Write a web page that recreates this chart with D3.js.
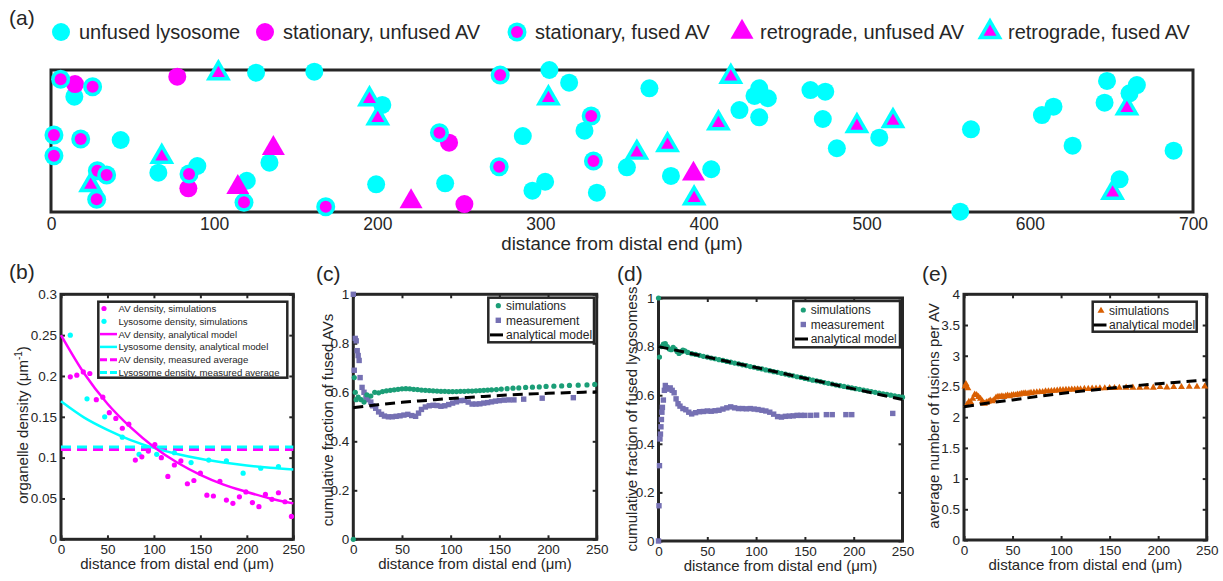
<!DOCTYPE html>
<html><head><meta charset="utf-8">
<script src="https://cdn.jsdelivr.net/npm/d3@7"></script>
<style>
body{margin:0;background:#fff;}
svg{display:block;}
</style></head><body>
<svg id="fig" width="1223" height="581"></svg>
<script>
// ---------------- DATA ----------------
// Panel (a): kymograph-like positions (x in µm, y as fraction of box height)
const aTicks = [0,100,200,300,400,500,600,700];
const lysoX = [14.3,125.7,161.4,203.1,42.7,133.9,65.8,89.7,120.0,199.3,241.6,305.5,317.6,327.0,289.2,302.9,295.1,334.6,353.0,380.0,404.7,366.8,422.0,431.2,434.1,439.4,434.1,465.5,474.6,473.1,481.7,507.7,563.9,557.3,607.4,614.5,626.2,647.3,645.8,665.6,661.1,655.0,688.1];
const lysoY = [0.812,0.981,0.988,0.754,0.507,0.347,0.277,0.324,0.220,0.195,0.202,1.0,0.911,0.573,0.535,0.213,0.150,0.136,0.315,0.254,0.301,0.871,0.718,0.817,0.871,0.801,0.667,0.859,0.847,0.655,0.449,0.523,0.582,0.002,0.683,0.742,0.467,0.923,0.770,0.894,0.836,0.230,0.432];
const statUnfX = [14.7,77.4,84.2,244.0,253.4];
const statUnfY = [0.901,0.953,0.167,0.488,0.056];
const statFusX = [5.9,25.5,1.8,18.2,1.8,84.6,28.4,34.1,28.0,118.3,168.4,238.1,275.3,331.1,274.7,332.5];
const statFusY = [0.935,0.882,0.542,0.514,0.396,0.268,0.291,0.261,0.089,0.068,0.037,0.558,0.965,0.676,0.319,0.359];
const retUnfX = [136.3,114.5,220.7,393.8];
const retUnfY = [0.449,0.174,0.073,0.268];
const retFusX = [102.6,195.2,200.3,67.9,24.3,304.9,359.1,377.9,394.2,416.7,409.1,494.0,516.1,659.5,650.7];
const retFusY = [0.977,0.794,0.660,0.389,0.190,0.801,0.418,0.472,0.096,0.953,0.625,0.606,0.641,0.730,0.136];
const aLegendLabels = ["unfused lysosome","stationary, unfused AV","stationary, fused AV","retrograde, unfused AV","retrograde, fused AV"];

// Panel (b)
const bXTicks = [0,50,100,150,200,250];
const bYTicks = [0,0.05,0.1,0.15,0.2,0.25,0.3];
const bAvSimX = [10,17,24,31,38,45,52,59,66,73,80,87,94,101,108,115,122,129,136,143,150,157,164,171,178,185,192,199,206,213,220,227,234,241,248];
const bAvSimY = [0.199,0.201,0.205,0.203,0.171,0.174,0.155,0.148,0.136,0.141,0.097,0.101,0.108,0.116,0.100,0.077,0.091,0.096,0.068,0.072,0.081,0.054,0.053,0.071,0.048,0.044,0.052,0.058,0.045,0.040,0.055,0.049,0.057,0.046,0.028];
const bLySimX = [10,28,47,66,84,103,122,140,159,178,196,215,234];
const bLySimY = [0.250,0.172,0.150,0.125,0.104,0.104,0.106,0.094,0.097,0.096,0.081,0.087,0.089];
const bModelX = [0,25,50,75,100,125,150,175,200,225,250];
const bAvModel = [0.250,0.203,0.166,0.137,0.113,0.094,0.079,0.067,0.058,0.050,0.044];
const bLyModel = [0.169,0.149,0.134,0.1215,0.112,0.1045,0.0986,0.094,0.0903,0.0875,0.0855];
const bAvMeasured = 0.110;
const bLyMeasured = 0.113;
const bLegendLabels = ["AV density, simulations","Lysosome density, simulations","AV density, analytical model","Lysosome density, analytical model","AV density, measured average","Lysosome density, measured average"];

// Panel (c)
const fracTicks = [0,0.2,0.4,0.6,0.8,1];
const cSimX = [0,1,2,3,5,8,11,14,18,22,26,30,34,38,42,46,50,54,58,62,66,70,74,78,82,86,90,94,98,102,106,110,114,118,122,126,130,134,138,142,147,152,158,164,170,177,184,191,198,206,214,222,231,240,248];
const cSimY = [0,0.66,0.60,0.57,0.58,0.57,0.56,0.59,0.585,0.60,0.598,0.603,0.606,0.608,0.610,0.612,0.614,0.615,0.614,0.612,0.611,0.609,0.608,0.607,0.606,0.605,0.604,0.604,0.603,0.603,0.603,0.604,0.604,0.605,0.605,0.606,0.607,0.608,0.609,0.610,0.611,0.613,0.615,0.617,0.618,0.620,0.621,0.622,0.624,0.625,0.626,0.628,0.629,0.630,0.632];
const cMeasX = [0,1,2,3,4,5,6,7,9,11,13,15,18,20,23,26,29,32,36,40,44,48,52,56,60,64,67,70,74,78,82,86,90,94,98,102,106,110,114,118,122,126,130,134,138,142,146,150,155,160,165,175,194,226];
const cMeasY = [1.0,0.69,0.82,0.81,0.77,0.75,0.73,0.66,0.62,0.60,0.58,0.57,0.56,0.545,0.535,0.52,0.51,0.503,0.50,0.50,0.502,0.504,0.507,0.51,0.505,0.502,0.515,0.53,0.54,0.545,0.547,0.546,0.543,0.545,0.55,0.556,0.561,0.566,0.567,0.56,0.552,0.552,0.553,0.556,0.558,0.561,0.564,0.566,0.568,0.569,0.569,0.572,0.576,0.578];
const cModelX = [0,25,50,75,100,125,150,175,200,225,250];
const cModelY = [0.537,0.549,0.559,0.567,0.575,0.581,0.587,0.592,0.596,0.599,0.602];

// Panel (d)
const dSimX = [0,1,3,5,7,9,11,13,15,17,19,21,23,25,27,30,34,38,42,46,50,54,58,62,66,70,74,78,82,86,90,94,98,102,106,110,114,118,122,126,130,134,138,142,146,150,154,158,162,166,170,174,178,182,186,190,194,198,202,206,210,214,218,222,226,230,234,238,242,246,250];
const dSimY = [1.0,0.757,0.80,0.81,0.812,0.80,0.79,0.787,0.797,0.79,0.78,0.772,0.778,0.786,0.782,0.776,0.771,0.768,0.764,0.760,0.757,0.753,0.750,0.746,0.743,0.739,0.736,0.732,0.729,0.725,0.722,0.718,0.715,0.711,0.708,0.704,0.701,0.697,0.694,0.690,0.687,0.683,0.680,0.676,0.673,0.669,0.666,0.662,0.659,0.656,0.652,0.649,0.646,0.642,0.639,0.636,0.633,0.630,0.627,0.624,0.621,0.618,0.615,0.612,0.609,0.606,0.603,0.600,0.597,0.594,0.592];
const dMeasX = [0,0.5,1,1.5,2,2.5,3,3.5,4,5,6,7,8,10,12,14,16,18,20,22,25,28,31,34,38,42,46,50,54,58,62,66,70,74,78,82,86,90,94,98,102,106,110,114,118,122,126,130,134,138,142,146,150,156,162,172,178,192,198,240];
const dMeasY = [0,0.145,0.31,0.42,0.44,0.47,0.50,0.53,0.55,0.58,0.62,0.64,0.63,0.625,0.63,0.62,0.61,0.585,0.565,0.555,0.545,0.54,0.53,0.523,0.528,0.532,0.533,0.535,0.534,0.536,0.538,0.543,0.548,0.552,0.548,0.545,0.545,0.544,0.545,0.543,0.541,0.538,0.535,0.53,0.522,0.512,0.51,0.513,0.514,0.515,0.517,0.517,0.517,0.517,0.518,0.52,0.52,0.52,0.52,0.525];
const dModelX = [0,25,50,75,100,125,150,175,200,225,250];
const dModelY = [0.800,0.779,0.757,0.735,0.714,0.692,0.670,0.648,0.626,0.604,0.582];

// Panel (e)
const eYTicks = [0,0.5,1,1.5,2,2.5,3,3.5,4];
const eSimX = [1,2,3,4,5,7,9,11,13,15,17,19,21,23,25,27,29,31,33,35,37,39,41,43,45,47,49,51,53,55,57,59,61,63,65,67,69,72,75,78,81,84,87,90,93,96,99,102,105,108,111,114,117,120,124,128,132,136,140,145,150,155,160,167,174,181,188,195,202,209,216,224,232,240,248];
const eSimY = [2.50,2.54,2.20,2.47,2.25,2.24,2.30,2.37,2.36,2.33,2.30,2.26,2.22,2.24,2.25,2.27,2.26,2.28,2.32,2.33,2.33,2.34,2.33,2.345,2.35,2.34,2.355,2.36,2.355,2.37,2.37,2.38,2.385,2.39,2.38,2.39,2.395,2.40,2.405,2.41,2.41,2.42,2.42,2.425,2.43,2.435,2.44,2.44,2.445,2.445,2.45,2.45,2.455,2.455,2.46,2.46,2.465,2.465,2.47,2.47,2.475,2.475,2.478,2.48,2.48,2.48,2.485,2.48,2.49,2.485,2.49,2.49,2.495,2.495,2.50];
const eModelX = [0,25,50,75,100,125,150,175,200,225,250];
const eModelY = [2.17,2.23,2.28,2.335,2.385,2.43,2.47,2.51,2.545,2.575,2.605];

// ---------------- DRAWING ----------------
const FONT = '"Liberation Sans", Arial, Helvetica, sans-serif';
const AX = "#262626";
const CYAN = "#00FFFF", MAG = "#FF00FF";
const GREEN = "#1B9E77", PURPLE = "#7570B3", ORANGE = "#D95F02";
const svg = d3.select("#fig").style("font-family", FONT);
const zip = (xs, ys) => xs.map((v, i) => [v, ys[i]]);
const tri = (s) => d3.symbol().type(d3.symbolTriangle).size(s * s * Math.sqrt(3) / 4)();

function txt(g, x, y, s, size, anchor) {
  return g.append("text").attr("x", x).attr("y", y).attr("fill", AX)
    .attr("font-size", size).attr("text-anchor", anchor || "start").text(s);
}

// ----- Panel (a) -----
const A = {left: 51, right: 1193, top: 70, bottom: 212};
const xA = d3.scaleLinear().domain([0, 700]).range([A.left, A.right]);
const yA = d3.scaleLinear().domain([0, 1]).range([A.bottom, A.top]);
const gA = svg.append("g");
txt(gA, 9, 25, "(a)", 21);
const axA = gA.append("g").attr("transform", `translate(0,${A.bottom})`)
  .call(d3.axisBottom(xA).tickValues(aTicks).tickSize(0).tickPadding(6).tickFormat(d3.format("d")));
axA.select(".domain").remove();
axA.selectAll("text").attr("fill", AX).style("font-size", "17.5px").style("font-family", FONT);
txt(gA, (A.left + A.right) / 2, 250, "distance from distal end (\u03BCm)", 18.7, "middle");
gA.append("rect").attr("x", A.left).attr("y", A.top).attr("width", A.right - A.left).attr("height", A.bottom - A.top)
  .attr("fill", "none").attr("stroke", AX).attr("stroke-width", 3);

const mA = gA.append("g");
mA.selectAll(".ly").data(zip(lysoX, lysoY)).join("circle")
  .attr("cx", d => xA(d[0])).attr("cy", d => yA(d[1])).attr("r", 9).attr("fill", CYAN);
mA.selectAll(".su").data(zip(statUnfX, statUnfY)).join("circle")
  .attr("cx", d => xA(d[0])).attr("cy", d => yA(d[1])).attr("r", 9).attr("fill", MAG);
const sf = mA.selectAll(".sf").data(zip(statFusX, statFusY)).join("g")
  .attr("transform", d => `translate(${xA(d[0])},${yA(d[1])})`);
sf.append("circle").attr("r", 9.5).attr("fill", CYAN);
sf.append("circle").attr("r", 6).attr("fill", MAG);
mA.selectAll(".ru").data(zip(retUnfX, retUnfY)).join("path")
  .attr("transform", d => `translate(${xA(d[0])},${yA(d[1])})`).attr("d", tri(23)).attr("fill", MAG);
const rf = mA.selectAll(".rf").data(zip(retFusX, retFusY)).join("g")
  .attr("transform", d => `translate(${xA(d[0])},${yA(d[1])})`);
rf.append("path").attr("d", tri(25)).attr("fill", CYAN);
rf.append("path").attr("d", tri(13)).attr("fill", MAG);

// legend (a)
const legAx = [61, 265, 517, 742, 990];
const legAy = 32;
const lgA = gA.append("g");
lgA.append("circle").attr("cx", legAx[0]).attr("cy", legAy).attr("r", 9).attr("fill", CYAN);
lgA.append("circle").attr("cx", legAx[1]).attr("cy", legAy).attr("r", 9).attr("fill", MAG);
lgA.append("circle").attr("cx", legAx[2]).attr("cy", legAy).attr("r", 9.5).attr("fill", CYAN);
lgA.append("circle").attr("cx", legAx[2]).attr("cy", legAy).attr("r", 6).attr("fill", MAG);
lgA.append("path").attr("transform", `translate(${legAx[3]},${legAy})`).attr("d", tri(23)).attr("fill", MAG);
lgA.append("path").attr("transform", `translate(${legAx[4]},${legAy})`).attr("d", tri(25)).attr("fill", CYAN);
lgA.append("path").attr("transform", `translate(${legAx[4]},${legAy})`).attr("d", tri(13)).attr("fill", MAG);
aLegendLabels.forEach((s, i) => txt(lgA, legAx[i] + 18, legAy + 7, s, 20));

// ----- generic MATLAB-like axes -----
function makeAxes(c) {
  const g = svg.append("g");
  const x = d3.scaleLinear().domain(c.xdom).range([c.left, c.right]);
  const y = d3.scaleLinear().domain(c.ydom).range([c.bottom, c.top]);
  const T = 4;
  const fmtY = d => String(d);
  g.append("g").attr("transform", `translate(0,${c.bottom})`)
    .call(d3.axisBottom(x).tickValues(c.xticks).tickSizeInner(-T).tickSizeOuter(0).tickPadding(5).tickFormat(d3.format("d")));
  g.append("g").attr("transform", `translate(0,${c.top})`)
    .call(d3.axisTop(x).tickValues(c.xticks).tickSizeInner(-T).tickSizeOuter(0).tickFormat(""));
  g.append("g").attr("transform", `translate(${c.left},0)`)
    .call(d3.axisLeft(y).tickValues(c.yticks).tickSizeInner(-T).tickSizeOuter(0).tickPadding(4).tickFormat(fmtY));
  g.append("g").attr("transform", `translate(${c.right},0)`)
    .call(d3.axisRight(y).tickValues(c.yticks).tickSizeInner(-T).tickSizeOuter(0).tickFormat(""));
  g.selectAll(".domain").remove();
  g.selectAll(".tick line").attr("stroke", AX).attr("stroke-width", 2);
  g.selectAll(".tick text").attr("fill", AX).style("font-size", "13.5px").style("font-family", FONT);
  g.append("rect").attr("x", c.left).attr("y", c.top).attr("width", c.right - c.left).attr("height", c.bottom - c.top)
    .attr("fill", "none").attr("stroke", AX).attr("stroke-width", 3);
  txt(g, c.labelX, c.labelY, c.label, 21);
  txt(g, (c.left + c.right) / 2, c.bottom + 30, "distance from distal end (\u03BCm)", 15, "middle");
  const yt = g.append("text").attr("transform", `translate(${c.ytX},${c.ytY}) rotate(-90)`)
    .attr("text-anchor", "middle").attr("fill", AX).attr("font-size", 15);
  c.ytitle(yt);
  const data = g.append("g");
  return {g, data, x, y};
}
function legendBox(g, b, rows, size) {
  const lg = g.append("g");
  lg.append("rect").attr("x", b.x0).attr("y", b.y0).attr("width", b.x1 - b.x0).attr("height", b.y1 - b.y0)
    .attr("fill", "#fff").attr("stroke", AX).attr("stroke-width", 2.5);
  rows.forEach((r, i) => {
    const y = b.ry0 + i * b.dy;
    const mx = b.mx;
    if (r.type === "dot") lg.append("circle").attr("cx", mx).attr("cy", y).attr("r", 2.6).attr("fill", r.color);
    if (r.type === "square") lg.append("rect").attr("x", mx - 2.7).attr("y", y - 2.7).attr("width", 5.4).attr("height", 5.4).attr("fill", r.color);
    if (r.type === "tri") lg.append("path").attr("transform", `translate(${mx},${y})`).attr("d", tri(7)).attr("fill", r.color);
    if (r.type === "line" || r.type === "dash")
      lg.append("line").attr("x1", b.lx0).attr("x2", b.lx1).attr("y1", y).attr("y2", y)
        .attr("stroke", r.color).attr("stroke-width", r.type === "dash" ? 3 : 2.5)
        .attr("stroke-dasharray", r.type === "dash" ? b.dash : null);
    lg.append("text").attr("x", b.tx).attr("y", y + size * 0.36).attr("font-size", size).attr("fill", AX).text(r.label);
  });
}

// ----- Panel (b) -----
const PB = makeAxes({left: 61, right: 293.3, top: 294.3, bottom: 539.3, xdom: [0, 250], ydom: [0, 0.3],
  xticks: bXTicks, yticks: bYTicks, label: "(b)", labelX: 9, labelY: 279, ytX: 28, ytY: 425,
  ytitle: t => { t.append("tspan").text("organelle density (\u03BCm");
                 t.append("tspan").attr("dy", -6).attr("font-size", 10).text("-1");
                 t.append("tspan").attr("dy", 6).text(")"); }});
{
  const {data, x, y} = PB;
  data.append("line").attr("x1", x(0)).attr("x2", x(250)).attr("y1", y(bAvMeasured)).attr("y2", y(bAvMeasured))
    .attr("stroke", MAG).attr("stroke-width", 3).attr("stroke-dasharray", "10,6");
  data.append("line").attr("x1", x(0)).attr("x2", x(250)).attr("y1", y(bLyMeasured)).attr("y2", y(bLyMeasured))
    .attr("stroke", CYAN).attr("stroke-width", 3).attr("stroke-dasharray", "10,6");
  const ln = d3.line().x(d => x(d[0])).y(d => y(d[1])).curve(d3.curveMonotoneX);
  data.append("path").attr("d", ln(zip(bModelX, bLyModel))).attr("fill", "none").attr("stroke", CYAN).attr("stroke-width", 2.5);
  data.append("path").attr("d", ln(zip(bModelX, bAvModel))).attr("fill", "none").attr("stroke", MAG).attr("stroke-width", 2.5);
  data.selectAll(".ls").data(zip(bLySimX, bLySimY)).join("circle").attr("cx", d => x(d[0])).attr("cy", d => y(d[1])).attr("r", 2.6).attr("fill", CYAN);
  data.selectAll(".as").data(zip(bAvSimX, bAvSimY)).join("circle").attr("cx", d => x(d[0])).attr("cy", d => y(d[1])).attr("r", 2.6).attr("fill", MAG);
  legendBox(PB.g, {x0: 98.3, x1: 287.3, y0: 301.7, y1: 377.7, ry0: 308.5, dy: 12.8, mx: 104, lx0: 100, lx1: 117, tx: 118.5, dash: "7,3"},
    [{type: "dot", color: MAG, label: bLegendLabels[0]}, {type: "dot", color: CYAN, label: bLegendLabels[1]},
     {type: "line", color: MAG, label: bLegendLabels[2]}, {type: "line", color: CYAN, label: bLegendLabels[3]},
     {type: "dash", color: MAG, label: bLegendLabels[4]}, {type: "dash", color: CYAN, label: bLegendLabels[5]}], 9.6);
}

// ----- Panel (c) -----
const PC = makeAxes({left: 353.3, right: 596.7, top: 294.3, bottom: 539.3, xdom: [0, 250], ydom: [0, 1],
  xticks: bXTicks, yticks: fracTicks, label: "(c)", labelX: 316, labelY: 281, ytX: 333, ytY: 420,
  ytitle: t => t.text("cumulative fraction of fused AVs")});
{
  const {data, x, y} = PC;
  const ln = d3.line().x(d => x(d[0])).y(d => y(d[1])).curve(d3.curveMonotoneX);
  data.selectAll(".m").data(zip(cMeasX, cMeasY)).join("rect").attr("x", d => x(d[0]) - 2.7).attr("y", d => y(d[1]) - 2.7)
    .attr("width", 5.4).attr("height", 5.4).attr("fill", PURPLE);
  data.selectAll(".s").data(zip(cSimX, cSimY)).join("circle").attr("cx", d => x(d[0])).attr("cy", d => y(d[1])).attr("r", 2.6).attr("fill", GREEN);
  data.append("path").attr("d", ln(zip(cModelX, cModelY))).attr("fill", "none").attr("stroke", "#000").attr("stroke-width", 3).attr("stroke-dasharray", "10,6");
  legendBox(PC.g, {x0: 488.3, x1: 594, y0: 297.7, y1: 342.3, ry0: 305.7, dy: 14.6, mx: 498.3, lx0: 490, lx1: 503, tx: 506, dash: null},
    [{type: "dot", color: GREEN, label: "simulations"}, {type: "square", color: PURPLE, label: "measurement"},
     {type: "dash", color: "#000", label: "analytical model"}], 12);
}

// ----- Panel (d) -----
const PD = makeAxes({left: 658.5, right: 902.5, top: 298, bottom: 541, xdom: [0, 250], ydom: [0, 1],
  xticks: bXTicks, yticks: fracTicks, label: "(d)", labelX: 617, labelY: 281, ytX: 637, ytY: 419,
  ytitle: t => t.text("cumulative fraction of fused lysosomess")});
{
  const {data, x, y} = PD;
  const ln = d3.line().x(d => x(d[0])).y(d => y(d[1])).curve(d3.curveMonotoneX);
  data.selectAll(".m").data(zip(dMeasX, dMeasY)).join("rect").attr("x", d => x(d[0]) - 2.7).attr("y", d => y(d[1]) - 2.7)
    .attr("width", 5.4).attr("height", 5.4).attr("fill", PURPLE);
  data.selectAll(".s").data(zip(dSimX, dSimY)).join("circle").attr("cx", d => x(d[0])).attr("cy", d => y(d[1])).attr("r", 2.6).attr("fill", GREEN);
  data.append("path").attr("d", ln(zip(dModelX, dModelY))).attr("fill", "none").attr("stroke", "#000").attr("stroke-width", 3).attr("stroke-dasharray", "10,6");
  legendBox(PD.g, {x0: 793.3, x1: 900, y0: 301, y1: 347.3, ry0: 310, dy: 14.5, mx: 803.3, lx0: 795, lx1: 808, tx: 810.7, dash: null},
    [{type: "dot", color: GREEN, label: "simulations"}, {type: "square", color: PURPLE, label: "measurement"},
     {type: "dash", color: "#000", label: "analytical model"}], 12);
}

// ----- Panel (e) -----
const PE = makeAxes({left: 964, right: 1206.7, top: 294.3, bottom: 540, xdom: [0, 250], ydom: [0, 4],
  xticks: bXTicks, yticks: eYTicks, label: "(e)", labelX: 922, labelY: 281, ytX: 939, ytY: 416,
  ytitle: t => t.text("average number of fusions per AV")});
{
  const {data, x, y} = PE;
  const ln = d3.line().x(d => x(d[0])).y(d => y(d[1])).curve(d3.curveMonotoneX);
  data.selectAll(".s").data(zip(eSimX, eSimY)).join("path").attr("transform", d => `translate(${x(d[0])},${y(d[1])})`)
    .attr("d", tri(7)).attr("fill", ORANGE);
  data.append("path").attr("d", ln(zip(eModelX, eModelY))).attr("fill", "none").attr("stroke", "#000").attr("stroke-width", 3).attr("stroke-dasharray", "10,6");
  legendBox(PE.g, {x0: 1092.7, x1: 1196.7, y0: 301.7, y1: 331.7, ry0: 310.7, dy: 14.3, mx: 1101, lx0: 1093.5, lx1: 1106.5, tx: 1109, dash: null},
    [{type: "tri", color: ORANGE, label: "simulations"}, {type: "dash", color: "#000", label: "analytical model"}], 12);
}
</script>
</body></html>
